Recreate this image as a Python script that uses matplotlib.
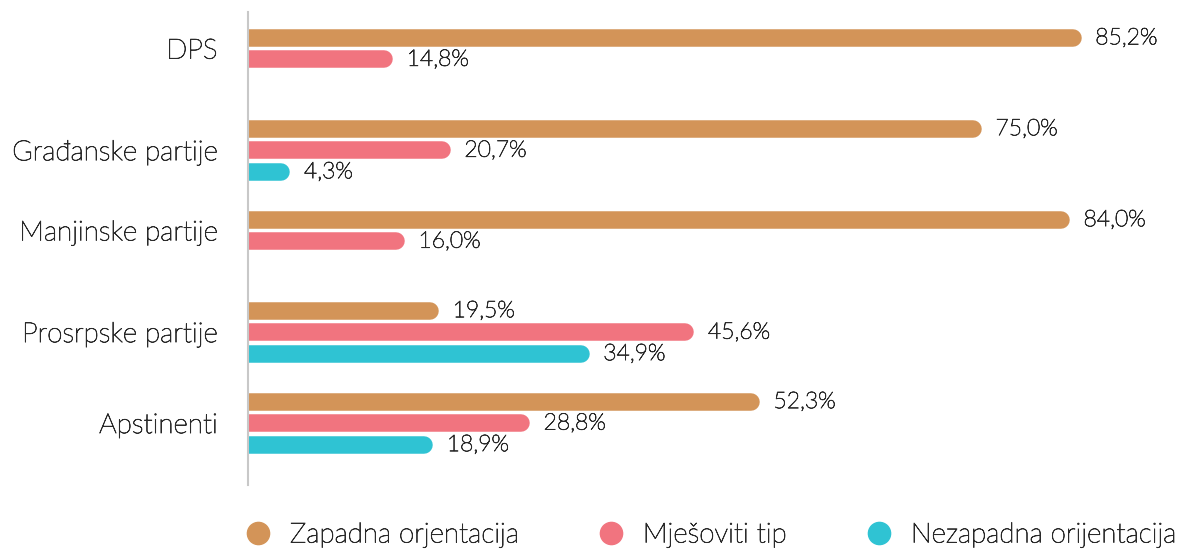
import numpy as np
import matplotlib.pyplot as plt
import matplotlib.patheffects as pe
from matplotlib.lines import Line2D

plt.rcParams['font.family'] = ['Lato', 'DejaVu Sans']
plt.rcParams['font.weight'] = 'light'

# Data
groups = ["DPS", "Građanske partije", "Manjinske partije", "Prosrpske partije", "Apstinenti"]
series = ["Zapadna orjentacija", "Mješoviti tip", "Nezapadna orijentacija"]
zapadna = [85.2, 75.0, 84.0, 19.5, 52.3]
mjesoviti = [14.8, 20.7, 16.0, 45.6, 28.8]
nezapadna = [None, 4.3, None, 34.9, 18.9]
colors = ["#D39458", "#F1747F", "#2FC3D3"]
text_color = "#2a2a2a"
# slightly heavier than Lato Light on its own
bolder = [pe.withStroke(linewidth=0.55, foreground=text_color)]

W, H, DPI = 11.87, 5.5, 100
fig = plt.figure(figsize=(W, H), dpi=DPI)
ax = fig.add_axes([248 / 1187, 1 - 485 / 550, 1 - 248 / 1187, 473 / 550])

xmax = 96
ax.set_xlim(0, xmax)
ax.set_ylim(20.8, -1.2)

# bar thickness and cap radius in data units
bar_px = 17.5
lw = bar_px * 72 / DPI
ax_w_px = W * DPI * (1 - 248 / 1187)
r = (bar_px / 2) * xmax / ax_w_px

group_step = 4.23
label_y = []
for g, name in enumerate(groups):
    ys = []
    for s, vals in enumerate([zapadna, mjesoviti, nezapadna]):
        v = vals[g]
        if v is None:
            continue
        y = g * group_step + s
        ys.append(y)
        ax.plot([-2, v - r], [y, y], color=colors[s], lw=lw,
                solid_capstyle='round', clip_on=True)
        ax.annotate(f"{v:.1f}%".replace(".", ","), (v, y), xytext=(10, 0),
                    textcoords="offset points", va="center", ha="left",
                    fontsize=16.5, color=text_color, path_effects=bolder)
    label_y.append(np.mean(ys))

ax.set_yticks(label_y)
ax.set_yticklabels(groups, fontsize=20, color=text_color)
for t in ax.get_yticklabels():
    t.set_path_effects(bolder)
ax.tick_params(axis='y', length=0, pad=22)
ax.set_xticks([])
for sp in ["top", "right", "bottom"]:
    ax.spines[sp].set_visible(False)
ax.spines["left"].set_color("#C8C8C8")
ax.spines["left"].set_linewidth(1.5)

handles = [Line2D([], [], marker='o', linestyle='none', markersize=16,
                  markerfacecolor=c, markeredgecolor=c) for c in colors]
leg = fig.legend(handles, series, loc="center left", bbox_to_anchor=(244 / 1187, 1 - 535 / 550),
                 ncol=3, frameon=False, borderpad=0, borderaxespad=0,
                 handletextpad=0.65, handlelength=1.0,
                 columnspacing=2.82, prop={'size': 20, 'weight': 'light'})
for t in leg.get_texts():
    t.set_color(text_color)
    t.set_path_effects(bolder)

fig.savefig("out.png", dpi=DPI)
